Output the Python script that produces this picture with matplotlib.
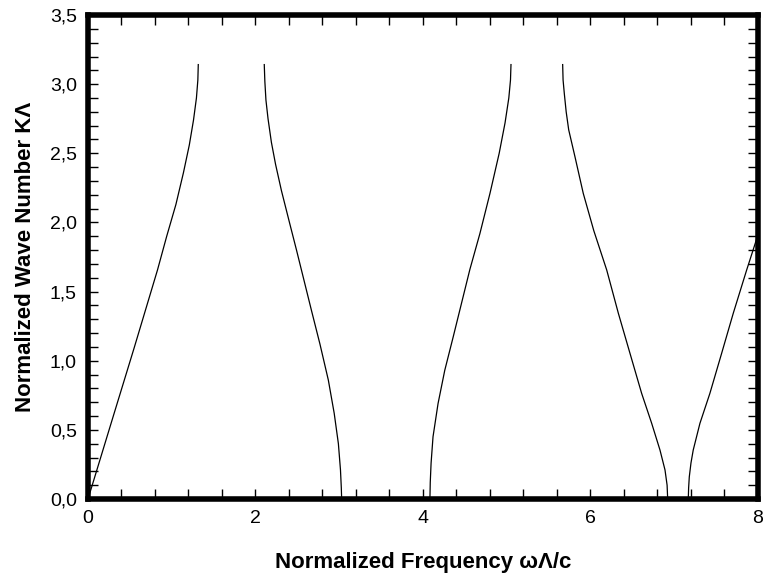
import numpy as np
import matplotlib
matplotlib.use("Agg")
import matplotlib.pyplot as plt
from matplotlib.ticker import MultipleLocator, FuncFormatter

plt.rcParams["font.family"] = ["Liberation Sans", "DejaVu Sans"]

# -------------------------
# Band data (omega*Lambda/c, K*Lambda)
# -------------------------
band1_w = [0.0, 0.056, 0.30, 0.55, 0.83, 0.94, 1.05, 1.14, 1.21, 1.26, 1.295, 1.312, 1.317]
band1_k = [0.0, 0.11, 0.595, 1.09, 1.656, 1.90, 2.13, 2.36, 2.56, 2.74, 2.90, 3.03, 3.1416]

band2_w = [2.105, 2.112, 2.125, 2.15, 2.19, 2.24, 2.31, 2.41, 2.49, 2.58, 2.67, 2.77, 2.87, 2.94, 2.99, 3.015, 3.025, 3.029]
band2_k = [3.1416, 3.02, 2.885, 2.75, 2.58, 2.42, 2.23, 1.99, 1.80, 1.58, 1.36, 1.12, 0.86, 0.62, 0.40, 0.21, 0.08, 0.0]

band3_w = [4.083, 4.087, 4.097, 4.12, 4.18, 4.26, 4.36, 4.46, 4.56, 4.68, 4.80, 4.91, 4.98, 5.025, 5.045, 5.051]
band3_k = [0.0, 0.12, 0.26, 0.45, 0.69, 0.93, 1.17, 1.415, 1.66, 1.92, 2.21, 2.50, 2.72, 2.90, 3.03, 3.1416]

band4_w = [5.668, 5.673, 5.688, 5.71, 5.74, 5.815, 5.914, 6.04, 6.194, 6.333, 6.472, 6.611, 6.731, 6.83, 6.89, 6.915, 6.922]
band4_k = [3.1416, 3.03, 2.93, 2.80, 2.67, 2.475, 2.21, 1.94, 1.656, 1.343, 1.053, 0.764, 0.547, 0.354, 0.21, 0.10, 0.0]

band5_w = [7.168, 7.172, 7.18, 7.20, 7.227, 7.307, 7.426, 7.566, 7.705, 7.865, 8.0]
band5_k = [0.0, 0.08, 0.16, 0.26, 0.354, 0.547, 0.764, 1.053, 1.343, 1.656, 1.91]

x_ticks = [0, 2, 4, 6, 8]
y_ticks = [0.0, 0.5, 1.0, 1.5, 2.0, 2.5, 3.0, 3.5]

# -------------------------
# Plot
# -------------------------
fig = plt.figure(figsize=(7.63, 5.78), dpi=100)
ax = fig.add_axes([0.1153, 0.1367, 0.8781, 0.8373])

for w, k in [(band1_w, band1_k), (band2_w, band2_k), (band3_w, band3_k),
             (band4_w, band4_k), (band5_w, band5_k)]:
    ax.plot(w, k, color="black", lw=0.9)

ax.set_xlim(0, 8)
ax.set_ylim(0, 3.5)
ax.set_xticks(x_ticks)
ax.set_yticks(y_ticks)
ax.xaxis.set_minor_locator(MultipleLocator(0.4))
ax.yaxis.set_minor_locator(MultipleLocator(0.1))
ax.yaxis.set_major_formatter(FuncFormatter(lambda v, p: f"{v:.1f}".replace(".", ",")))
ax.xaxis.set_major_formatter(FuncFormatter(lambda v, p: f"{v:g}"))

for s in ax.spines.values():
    s.set_linewidth(4)
ax.tick_params(which="both", direction="in", top=True, right=True,
               length=7, width=1, labelsize=14)
ax.tick_params(axis="x", pad=8)
ax.tick_params(axis="y", pad=8)

ax.set_xlabel("Normalized Frequency ωΛ/c", fontsize=16, fontweight="bold", labelpad=18)
ax.set_ylabel("Normalized Wave Number KΛ", fontsize=16, fontweight="bold", labelpad=10)

fig.savefig("out.png", dpi=100)
